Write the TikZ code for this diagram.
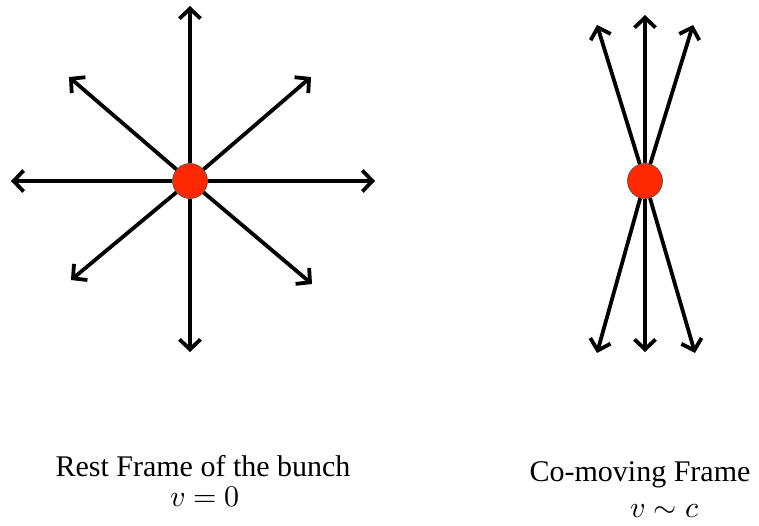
\documentclass[tikz,border=0pt]{standalone}
\usepackage{fontspec}
\usepackage{unicode-math}
\setmainfont{Liberation Serif}
\setmathfont{Latin Modern Math}
\usepackage{xcolor}
\usetikzlibrary{arrows.meta, positioning}
\definecolor{bunchred}{RGB}{255,40,0}

\begin{document}
\begin{tikzpicture}[x=1pt, y=-1pt, >={Straight Barb[length=10pt, width=21pt, line width=3.8pt]},
    ray/.style={->, line width=3.8pt},
    bunch/.style={circle, fill=bunchred, draw=black!70, line width=0.6pt, minimum size=35pt, inner sep=0pt},
    caption/.style={font=\fontsize{30}{34}\selectfont, align=center}]
    \useasboundingbox (0,0) rectangle (759,525);

    % Rest frame: rays in all directions
    \node[bunch] (rest) at (190,181) {};
    \coordinate (restN) at (190,6);
    \coordinate (restS) at (190,352);
    \coordinate (restW) at (11,181);
    \coordinate (restE) at (375,181);
    \coordinate (restNW) at (69,77);
    \coordinate (restNE) at (311,77);
    \coordinate (restSW) at (71,280);
    \coordinate (restSE) at (312,284);
    \draw[ray] (rest) -- (restN);
    \draw[ray] (rest) -- (restS);
    \draw[ray] (rest) -- (restW);
    \draw[ray] (rest) -- (restE);
    \draw[ray] (rest) -- (restNW);
    \draw[ray] (rest) -- (restNE);
    \draw[ray] (rest) -- (restSW);
    \draw[ray] (rest) -- (restSE);

    % Co-moving frame: rays squeezed along the axis
    \node[bunch] (move) at (645,181) {};
    \coordinate (moveN) at (645,15);
    \coordinate (moveS) at (645,352);
    \coordinate (moveNW) at (597,25);
    \coordinate (moveNE) at (693,25);
    \coordinate (moveSW) at (597,353);
    \coordinate (moveSE) at (695,353);
    \draw[ray] (move) -- (moveN);
    \draw[ray] (move) -- (moveS);
    \draw[ray] (move) -- (moveNW);
    \draw[ray] (move) -- (moveNE);
    \draw[ray] (move) -- (moveSW);
    \draw[ray] (move) -- (moveSE);

    % Captions
    \node[caption] (restlabel) at (203,466) {Rest Frame of the bunch};
    \node[caption] (restspeed) at (205,497) {$v = 0$};
    \node[caption] (movelabel) at (640,475) {Co-moving Frame};
    \node[caption] (movespeed) at (665,511) {$v \sim c$};
\end{tikzpicture}
\end{document}
